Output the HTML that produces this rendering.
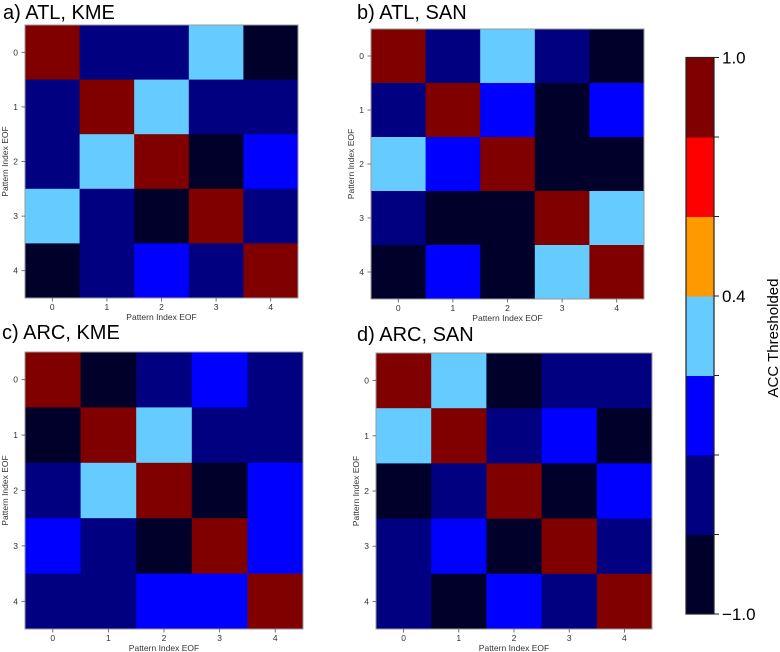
<!DOCTYPE html>
<html><head><meta charset="utf-8"><style>
html,body{margin:0;padding:0;background:#fff;}
svg{display:block;font-family:"Liberation Sans",sans-serif;}
</style></head><body>
<svg id="fig" width="780" height="652" viewBox="0 0 780 652"></svg>
<script>
const colors = ["#00002b","#000080","#0000ff","#66ccff","#ff9900","#ff0000","#800000"];
const indices = [0,1,2,3,4];
const cbTickLabels = ["1.0","0.4","\u22121.0"];
const cbTickLevels = [7,4,0];
const matA = [[6,1,1,3,0],[1,6,3,1,1],[1,3,6,0,2],[3,1,0,6,1],[0,1,2,1,6]];
const matB = [[6,1,3,1,0],[1,6,2,0,2],[3,2,6,0,0],[1,0,0,6,3],[0,2,0,3,6]];
const matC = [[6,0,1,2,1],[0,6,3,1,1],[1,3,6,0,2],[2,1,0,6,2],[1,1,2,2,6]];
const matD = [[6,3,0,1,1],[3,6,1,2,0],[0,1,6,0,2],[1,2,0,6,1],[1,0,2,1,6]];
const titles = ["a) ATL, KME","b) ATL, SAN","c) ARC, KME","d) ARC, SAN"];

const NS="http://www.w3.org/2000/svg";
const svg=document.getElementById('fig');
function mk(tag,attrs,parent){const e=document.createElementNS(NS,tag);for(const k in attrs)e.setAttribute(k,attrs[k]);(parent||svg).appendChild(e);return e;}

const panels=[
 {m:matA,x:25,y:25,w:273,h:273,tx:3,ty:19,key:'a'},
 {m:matB,x:371,y:29,w:273,h:270,tx:357,ty:19,key:'b'},
 {m:matC,x:25,y:352,w:278,h:277,tx:2,ty:339,key:'c'},
 {m:matD,x:376,y:353,w:276,h:276,tx:357,ty:341,key:'d'}
];
panels.forEach((p,pi)=>{
  const g=mk('g',{});
  
  
  const n=indices.length;
  const cw=p.w/n, ch=p.h/n;
  const xs=i=>p.x+i*cw, ys=j=>p.y+j*ch;
  p.m.forEach((row,r)=>row.forEach((v,c)=>{
    const rc=mk('rect',{x:xs(c),y:ys(r),width:cw+0.5,height:ch+0.5,fill:colors[v]},g);
    
    
  }));
  mk('rect',{x:p.x,y:p.y,width:p.w,height:p.h,fill:'none',stroke:'#999','stroke-width':1},g);
  indices.forEach(i=>{
    const cx=xs(i)+cw/2, cy=ys(i)+ch/2;
    mk('line',{x1:cx,y1:p.y+p.h,x2:cx,y2:p.y+p.h+3.5,stroke:'#555','stroke-width':0.8},g);
    const xt=mk('text',{x:cx,y:p.y+p.h+12,'font-size':8.5,fill:'#333','text-anchor':'middle'},g);
    xt.textContent=i;
    
    
    mk('line',{x1:p.x,y1:cy,x2:p.x-3.5,y2:cy,stroke:'#555','stroke-width':0.8},g);
    const yt=mk('text',{x:p.x-7,y:cy+3,'font-size':8.5,fill:'#333','text-anchor':'end'},g);
    yt.textContent=i;
    
    
  });
  const xl=mk('text',{x:p.x+p.w/2,y:p.y+p.h+22,'font-size':8.5,fill:'#333','text-anchor':'middle'},g);
  xl.textContent='Pattern Index EOF';
  
  
  const yx=p.x-17, yy=p.y+p.h/2;
  const yl=mk('text',{x:yx,y:yy,'font-size':8.5,fill:'#333','text-anchor':'middle',transform:`rotate(-90 ${yx} ${yy})`},g);
  yl.textContent='Pattern Index EOF';
  
  
  const t=mk('text',{x:p.tx,y:p.ty,'font-size':20,fill:'#000'});
  t.textContent=titles[pi];
  
  
});

// colorbar
const cb=mk('g',{});


const cbX=686,cbW=28,cbTop=57.5,cbBot=614;
const binH=(cbBot-cbTop)/colors.length;
const ly=l=>cbBot-l*binH;
colors.forEach((c,i)=>{
  const r=mk('rect',{x:cbX,y:ly(i+1),width:cbW,height:binH+0.5,fill:c},cb);
  
  
});
mk('rect',{x:cbX,y:cbTop,width:cbW,height:cbBot-cbTop,fill:'none',stroke:'#222','stroke-width':1.2},cb);
for(let l=0;l<=colors.length;l++){
  mk('line',{x1:cbX+cbW,y1:ly(l),x2:cbX+cbW+5,y2:ly(l),stroke:'#222','stroke-width':1},cb);
}
cbTickLabels.forEach((s,i)=>{
  const t=mk('text',{x:cbX+cbW+8,y:ly(cbTickLevels[i])+6,'font-size':17,fill:'#000'},cb);
  t.textContent=s;
  
  
});
const cl=mk('text',{x:778,y:338,'font-size':15,fill:'#000','text-anchor':'middle',transform:'rotate(-90 778 338)'},cb);
cl.textContent='ACC Thresholded';


</script>
</body></html>
